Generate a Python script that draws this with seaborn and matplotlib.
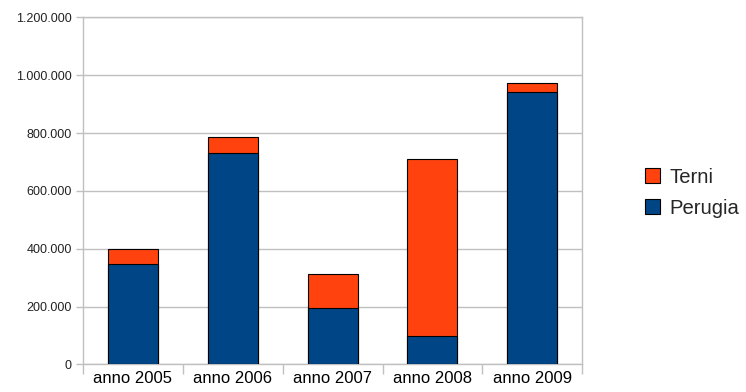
import matplotlib
matplotlib.use("Agg")
import matplotlib.pyplot as plt
import matplotlib.ticker as mticker
from matplotlib.patches import Patch
import seaborn as sns
import pandas as pd

years = ["anno 2005", "anno 2006", "anno 2007", "anno 2008", "anno 2009"]
perugia = [346000, 730000, 197000, 98000, 941000]
terni = [54000, 55000, 115000, 611000, 32000]
y_ticks = [0, 200000, 400000, 600000, 800000, 1000000, 1200000]

BLUE = "#004586"
ORANGE = "#ff420e"
GRID = "#c0c0c0"

sns.set_theme(style="white")
plt.rcParams["font.family"] = ["Liberation Sans", "DejaVu Sans"]

df = pd.DataFrame({"anno": years, "Perugia": perugia, "Terni": terni})
df["Totale"] = df["Perugia"] + df["Terni"]

fig = plt.figure(figsize=(7.46, 3.92), dpi=100)
ax = fig.add_axes([0.111, 0.0702, 0.6696, 0.8852])

sns.barplot(data=df, x="anno", y="Totale", color=ORANGE, saturation=1,
            width=0.5, edgecolor="black", linewidth=0.8, ax=ax, zorder=3)
sns.barplot(data=df, x="anno", y="Perugia", color=BLUE, saturation=1,
            width=0.5, edgecolor="black", linewidth=0.8, ax=ax, zorder=3)

ax.set_xlim(-0.5, len(years) - 0.5)
ax.set_ylim(0, 1200000)
ax.set_yticks(y_ticks)
ax.yaxis.set_major_formatter(mticker.FuncFormatter(lambda v, p: f"{int(v):,}".replace(",", ".")))
ax.grid(axis="y", color=GRID, linewidth=1, zorder=0)
ax.set_axisbelow(True)

for s in ax.spines.values():
    s.set_color(GRID)
    s.set_linewidth(1)

ax.tick_params(axis="y", which="major", direction="out", length=5, width=1,
               color=GRID, labelsize=9, labelcolor="#222222", pad=3, left=True)
ax.tick_params(axis="x", which="major", length=0, labelsize=12, labelcolor="black", pad=5)
ax.set_xticks([i + 0.5 for i in range(-1, len(years))], minor=True)
ax.tick_params(axis="x", which="minor", direction="out", length=7, width=1, color=GRID, bottom=True)
ax.set_xlabel("")
ax.set_ylabel("")

handles = [Patch(facecolor=ORANGE, edgecolor="black", linewidth=0.8, label="Terni"),
           Patch(facecolor=BLUE, edgecolor="black", linewidth=0.8, label="Perugia")]
fig.legend(handles=handles, loc="center left", bbox_to_anchor=(0.865, 0.508),
           frameon=False, fontsize=14.6, handlelength=0.75, handleheight=0.75,
           handletextpad=0.45, labelspacing=0.6, borderaxespad=0, borderpad=0)

fig.savefig("out.png", dpi=100)
